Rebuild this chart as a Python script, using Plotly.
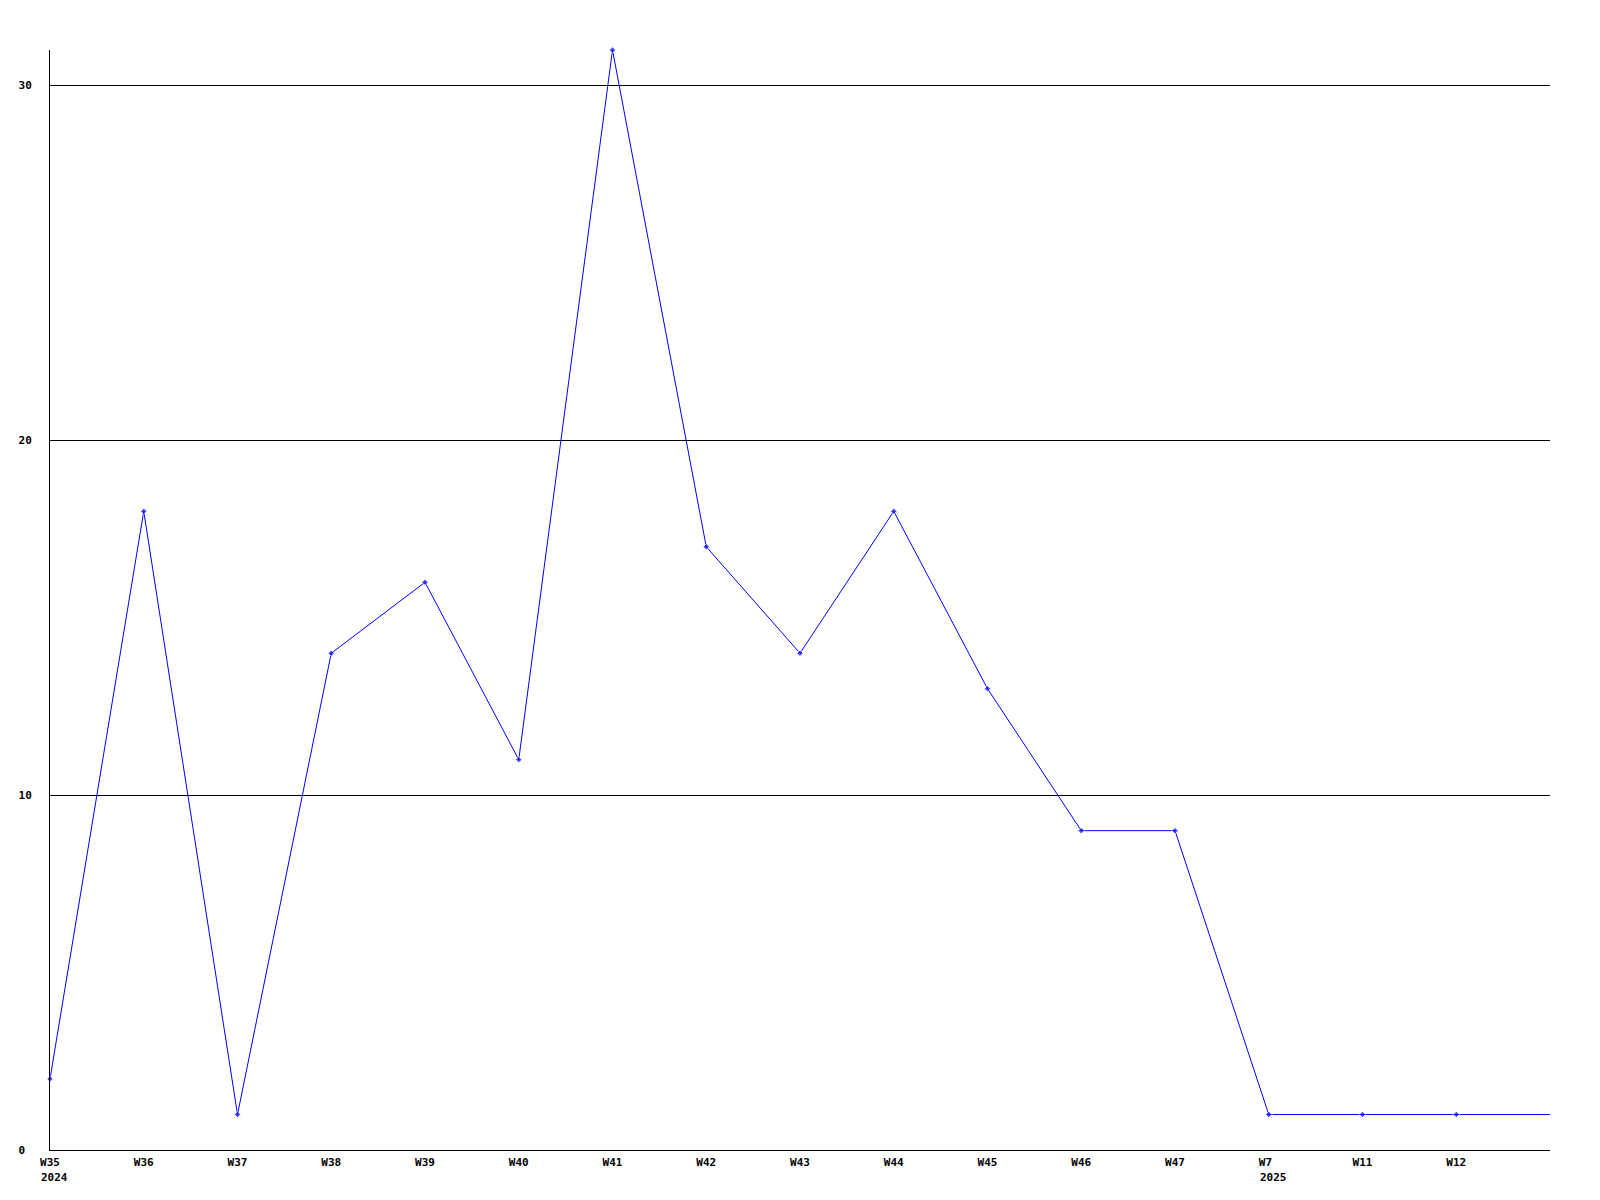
import plotly.graph_objects as go

weeks = ["W35", "W36", "W37", "W38", "W39", "W40", "W41", "W42", "W43",
         "W44", "W45", "W46", "W47", "W7", "W11", "W12", ""]
counts = [2, 18, 1, 14, 16, 11, 31, 17, 14, 18, 13, 9, 9, 1, 1, 1, 1]
year_labels = {0: "2024", 13: "2025"}
y_ticks = [0, 10, 20, 30]

FONT = dict(family="DejaVu Sans Mono", size=11, color="black", weight="bold")

xs = list(range(len(weeks)))
sizes = [5] * (len(weeks) - 1) + [0]

fig = go.Figure()
fig.add_trace(go.Scatter(
    x=xs, y=counts, mode="lines+markers",
    line=dict(color="#0000ff", width=1),
    marker=dict(symbol="diamond", size=sizes, color="#0000ff"),
    cliponaxis=False, showlegend=False, hoverinfo="skip",
))

ticktext = [w + "\u00a0" if len(w) == 2 else w for w in weeks[:-1]]

annotations = []
for i, yr in year_labels.items():
    annotations.append(dict(
        x=i, y=0, xref="x", yref="paper", text=yr, showarrow=False,
        xanchor="left", yanchor="top", xshift=-11, yshift=-19,
        font=FONT,
    ))

fig.update_layout(
    width=1600, height=1200,
    margin=dict(l=42, r=58, t=42, b=58),
    plot_bgcolor="white", paper_bgcolor="white",
    font=FONT,
    annotations=annotations,
    xaxis=dict(
        range=[0, len(weeks) - 1],
        tickvals=xs[:-1], ticktext=ticktext,
        showgrid=False, zeroline=False,
        showline=True, linecolor="black", linewidth=1,
        ticks="", tickfont=FONT, ticklabelstandoff=2,
    ),
    yaxis=dict(
        range=[0, 31],
        tickvals=y_ticks,
        ticktext=[str(v) + "\u00a0" if v < 10 else str(v) for v in y_ticks],
        showgrid=True, gridcolor="black", gridwidth=1,
        zeroline=False,
        showline=True, linecolor="black", linewidth=1,
        ticks="", tickfont=FONT, ticklabelstandoff=15,
    ),
)

fig.write_html("out.html")
